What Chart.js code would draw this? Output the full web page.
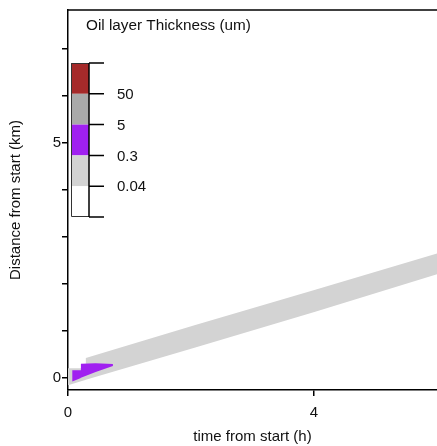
<!DOCTYPE html>
<html>
<head>
<meta charset="utf-8">
<script src="https://cdn.jsdelivr.net/npm/chart.js"></script>
<style>
  html, body { margin: 0; padding: 0; background: #fff; overflow: hidden; }
  #wrap { width: 437px; height: 446px; }
</style>
</head>
<body>
<div id="wrap"><canvas id="c" width="437" height="446"></canvas></div>
<script>
// light gray band (0.04 - 0.3 um): time (h) vs upper / lower distance (km)
const bandTime  = [0, 0.28, 0.29, 2.07, 4.02, 6.0];
const bandUpper = [0.21, 0.21, 0.43, 1.13, 1.88, 2.65];
const bandLower = [-0.15, -0.04, -0.03, 0.65, 1.41, 2.21];

// purple patch (0.3 - 5 um)
const purpleTime  = [0.07, 0.2, 0.21, 0.45, 0.73];
const purpleUpper = [0.17, 0.17, 0.31, 0.32, 0.30];
const purpleLower = [-0.07, 0.0, 0.01, 0.13, 0.26];

// colour key, top to bottom
const keyColors = ['#a52a2a', '#a9a9a9', '#a020f0', '#d3d3d3', '#ffffff'];
const keyLabels = ['50', '5', '0.3', '0.04'];

const xTickLabels = [0, 4];
const yTickLabels = [0, 5];

function polygon(t, up, lo) {
  const pts = t.map((v, i) => ({ x: v, y: up[i] }));
  for (let i = t.length - 1; i >= 0; i--) pts.push({ x: t[i], y: lo[i] });
  pts.push({ x: t[0], y: up[0] });
  return pts;
}

const FONT = 'Liberation Sans, Arial, sans-serif';

const framePlugin = {
  id: 'frame',
  afterDraw(chart) {
    const ctx = chart.ctx;
    const a = chart.chartArea;
    ctx.save();
    // top border
    ctx.strokeStyle = '#000';
    ctx.lineWidth = 1.5;
    ctx.beginPath();
    ctx.moveTo(a.left, a.top);
    ctx.lineTo(a.right, a.top);
    ctx.stroke();

    // title of the key
    ctx.fillStyle = '#111';
    ctx.font = '15.3px ' + FONT;
    ctx.textBaseline = 'middle';
    ctx.textAlign = 'left';
    ctx.fillText('Oil layer Thickness (um)', 86, 26);

    // colour bar
    const left = 71, right = 89, top = 63, bottom = 217;
    const h = (bottom - top) / keyColors.length;
    keyColors.forEach((c, i) => {
      ctx.fillStyle = c;
      ctx.fillRect(left, top + i * h, right - left, h);
    });
    ctx.strokeStyle = '#333';
    ctx.lineWidth = 1;
    ctx.beginPath();
    ctx.moveTo(right, top + 0.5);
    ctx.lineTo(left + 0.5, top + 0.5);
    ctx.lineTo(left + 0.5, bottom - 0.5);
    ctx.lineTo(right, bottom - 0.5);
    ctx.stroke();
    ctx.strokeStyle = '#000';
    ctx.lineWidth = 1.5;
    ctx.beginPath();
    ctx.moveTo(right, top);
    ctx.lineTo(right, bottom);
    for (let i = 0; i <= keyColors.length; i++) {
      const y = top + i * h;
      ctx.moveTo(right, y);
      ctx.lineTo(right + 15, y);
    }
    ctx.stroke();
    ctx.fillStyle = '#111';
    ctx.font = '15px ' + FONT;
    keyLabels.forEach((l, i) => {
      ctx.fillText(l, 117, top + (i + 1) * h + 1);
    });
    ctx.restore();
  }
};

new Chart(document.getElementById('c'), {
  type: 'scatter',
  data: {
    datasets: [
      {
        data: polygon(purpleTime, purpleUpper, purpleLower),
        showLine: true,
        fill: 'shape',
        backgroundColor: '#a020f0',
        borderColor: 'transparent',
        pointRadius: 0,
        tension: 0
      },
      {
        data: polygon(bandTime, bandUpper, bandLower),
        showLine: true,
        fill: 'shape',
        backgroundColor: '#d3d3d3',
        borderColor: 'transparent',
        pointRadius: 0,
        tension: 0
      }
    ]
  },
  options: {
    responsive: false,
    animation: false,
    devicePixelRatio: 1,
    layout: { padding: { top: 6, right: 0, left: 0, bottom: 0 } },
    plugins: { legend: { display: false }, tooltip: { enabled: false } },
    scales: {
      x: {
        type: 'linear',
        min: 0,
        max: 6.0,
        afterFit: s => { s.height = 56; },
        border: { display: true, color: '#000', width: 1.5 },
        grid: { drawOnChartArea: false, drawTicks: true, tickLength: 6, color: '#000', lineWidth: 1.5 },
        ticks: {
          stepSize: 4,
          includeBounds: false,
          maxRotation: 0,
          padding: 8,
          color: '#111',
          font: { family: FONT, size: 15 },
          callback: v => xTickLabels.includes(v) ? String(v) : ''
        },
        title: {
          display: true,
          text: 'time from start (h)',
          color: '#111',
          font: { family: FONT, size: 15 },
          padding: { top: 0, bottom: 0 }
        }
      },
      y: {
        type: 'linear',
        min: -0.25,
        max: 7.82,
        afterFit: s => { s.width = 68; },
        border: { display: true, color: '#000', width: 1.5 },
        grid: { drawOnChartArea: false, drawTicks: true, tickLength: 6, color: '#000', lineWidth: 1.5 },
        ticks: {
          stepSize: 1,
          includeBounds: false,
          padding: 1,
          color: '#111',
          font: { family: FONT, size: 15 },
          callback: v => yTickLabels.includes(v) ? String(v) : ''
        },
        title: {
          display: true,
          text: 'Distance from start (km)',
          color: '#111',
          font: { family: FONT, size: 15 },
          padding: { top: 7, bottom: 0 }
        }
      }
    }
  },
  plugins: [framePlugin]
});
</script>
</body>
</html>
